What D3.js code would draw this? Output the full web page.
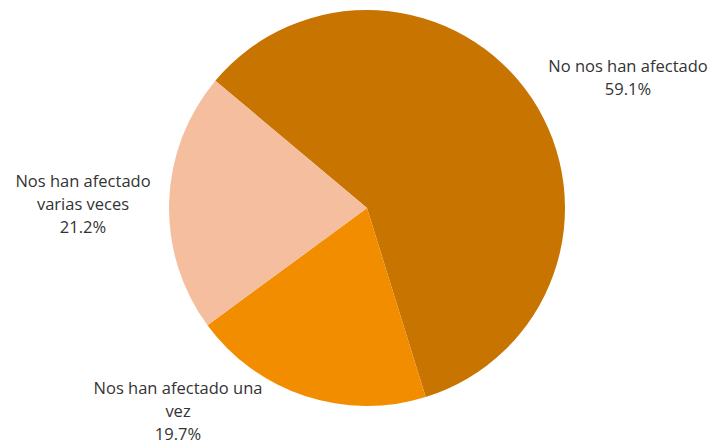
<!DOCTYPE html>
<html>
<head>
<meta charset="utf-8">
<script src="https://cdn.jsdelivr.net/npm/d3@7"></script>
<style>
  body { margin: 0; background: #fff; }
  text { font-family: "Open Sans", sans-serif; font-size: 16.5px; fill: #333; }
</style>
</head>
<body>
<svg width="713" height="446"></svg>
<script>
var categories = ["No nos han afectado", "Nos han afectado una vez", "Nos han afectado varias veces"];
var values = [59.1, 19.7, 21.2];
var labelLines = [["No nos han afectado", "59.1%"], ["Nos han afectado una", "vez", "19.7%"], ["Nos han afectado", "varias veces", "21.2%"]];
var colors = ["#c87400", "#f28d00", "#f5bf9f"];

var svg = d3.select("svg"),
    cx = 367,
    cy = 208,
    radius = 198;

// label anchors (centre x, first baseline y), Excel-style placement
var labelAnchor = [[628, 72], [178, 394], [83, 187]];
var lineHeight = 23;

var pie = d3.pie()
    .sort(null)
    .startAngle(-50 * Math.PI / 180)
    .endAngle(310 * Math.PI / 180);

var arc = d3.arc()
    .innerRadius(0)
    .outerRadius(radius);

var color = d3.scaleOrdinal()
    .domain(categories)
    .range(colors);

var g = svg.append("g")
    .attr("transform", "translate(" + cx + "," + cy + ")");

g.selectAll("path")
    .data(pie(values))
    .enter().append("path")
    .attr("d", arc)
    .style("fill", function(d, i) { return color(categories[i]); });

var labels = svg.selectAll("text.label")
    .data(labelLines)
    .enter().append("text")
    .attr("class", "label")
    .attr("text-anchor", "middle");

labels.selectAll("tspan")
    .data(function(d, i) { return d.map(function(s) { return {s: s, i: i}; }); })
    .enter().append("tspan")
    .attr("x", function(d) { return labelAnchor[d.i][0]; })
    .attr("y", function(d, j) { return labelAnchor[d.i][1] + j * lineHeight; })
    .text(function(d) { return d.s; });
</script>
</body>
</html>
